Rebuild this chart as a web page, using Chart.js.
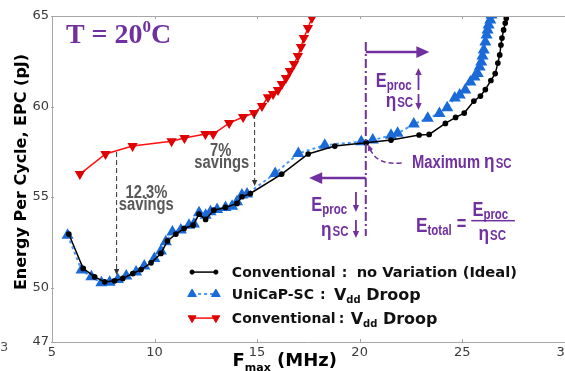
<!DOCTYPE html>
<html>
<head>
<meta charset="utf-8">
<script src="https://cdn.jsdelivr.net/npm/chart.js@4.4.1/dist/chart.umd.min.js"></script>
<style>
  html, body { margin: 0; padding: 0; background: #fff; overflow: hidden; }
  #wrap { width: 576px; height: 371px; }
</style>
</head>
<body>
<div id="wrap"><canvas id="epcChart" width="576" height="371"></canvas></div>
<script>
// axis ticks
const xTicks = [5, 10, 15, 20, 25, 30];
const yTicks = [47, 50, 55, 60, 65];

// Conventional : no Variation (Ideal)
const idealF = [5.82, 6.52, 7.08, 7.57, 8.05, 8.45, 8.94, 9.34, 9.83, 10.31, 10.63, 11.04, 11.44, 11.88, 12.17, 12.49, 12.89, 13.46, 14.02, 14.26, 14.67, 16.20, 17.49, 18.79, 20.32, 21.53, 22.90, 23.39, 24.18, 24.68, 25.10, 25.57, 25.89, 26.13, 26.40, 26.61, 26.74, 26.83, 26.89, 26.94, 27.02, 27.10, 27.15, 27.20];
const idealEPC = [52.96, 51.06, 50.60, 50.32, 50.38, 50.51, 50.78, 51.00, 51.37, 51.89, 52.58, 52.96, 53.27, 53.45, 54.06, 53.77, 54.28, 54.43, 54.65, 55.02, 55.20, 56.27, 57.38, 57.82, 58.00, 58.15, 58.43, 58.46, 59.07, 59.40, 59.64, 60.30, 60.58, 60.94, 61.44, 61.82, 62.40, 62.85, 63.40, 63.78, 64.23, 64.61, 64.87, 65.33];

// UniCaP-SC : Vdd Droop
const uniF = [5.76, 6.44, 6.92, 7.41, 7.81, 8.21, 8.62, 9.10, 9.50, 9.99, 10.31, 10.55, 10.87, 11.28, 11.68, 11.92, 12.17, 12.49, 12.73, 13.05, 13.46, 13.78, 14.02, 14.26, 14.51, 15.88, 17.01, 18.30, 20.08, 20.64, 21.53, 21.85, 22.64, 23.32, 23.89, 24.27, 24.64, 24.88, 25.15, 25.40, 25.60, 25.76, 25.85, 25.93, 25.99, 26.05, 26.13, 26.19, 26.24, 26.29, 26.37, 26.43];
const uniEPC = [52.90, 50.97, 50.60, 50.27, 50.30, 50.45, 50.64, 50.87, 51.19, 51.61, 52.03, 52.53, 53.08, 53.18, 53.45, 53.51, 54.13, 54.00, 54.19, 54.32, 54.43, 54.50, 54.74, 55.11, 55.17, 56.31, 57.41, 57.87, 58.06, 58.15, 58.41, 58.52, 59.03, 59.35, 59.61, 59.94, 60.47, 60.64, 60.91, 61.35, 61.63, 61.83, 62.18, 62.46, 62.79, 63.12, 63.56, 63.95, 64.23, 64.50, 64.78, 65.05];

// Conventional : Vdd Droop
const droopF = [6.36, 7.61, 8.93, 10.83, 11.46, 12.48, 12.86, 13.64, 14.32, 14.85, 15.24, 15.53, 15.78, 16.02, 16.21, 16.41, 16.60, 16.80, 16.99, 17.14, 17.28, 17.48, 17.67, 17.82];
const droopEPC = [56.27, 57.38, 57.82, 58.09, 58.26, 58.48, 58.48, 59.09, 59.42, 59.64, 60.03, 60.52, 60.69, 60.91, 61.24, 61.57, 61.96, 62.35, 62.79, 63.29, 63.78, 64.34, 64.89, 65.33];

const PURPLE = '#7030A0';
const GRAY = '#595959';
const NARROW = 0.82;

const toPoints = (xs, ys) => xs.map((x, i) => ({ x: x, y: ys[i] }));

function narrowText(ctx, text, x, y, size, color, align) {
    ctx.save();
    ctx.font = `bold ${size}px "Liberation Sans", Arial, sans-serif`;
    const w = ctx.measureText(text).width * NARROW;
    const x0 = align === 'center' ? x - w / 2 : x;
    ctx.translate(x0, y);
    ctx.scale(NARROW, 1);
    ctx.fillStyle = color;
    ctx.textAlign = 'left';
    ctx.textBaseline = 'alphabetic';
    ctx.fillText(text, 0, 0);
    ctx.restore();
    return x0 + w;
}

function plainText(ctx, text, x, y, font, color) {
    ctx.font = font;
    ctx.fillStyle = color;
    ctx.textAlign = 'left';
    ctx.textBaseline = 'alphabetic';
    ctx.fillText(text, x, y);
    return x + ctx.measureText(text).width;
}

function arrow(ctx, x1, y1, x2, y2, color, width, head, dash) {
    ctx.save();
    ctx.strokeStyle = color;
    ctx.fillStyle = color;
    ctx.lineWidth = width;
    ctx.setLineDash(dash || []);
    const a = Math.atan2(y2 - y1, x2 - x1);
    ctx.beginPath();
    ctx.moveTo(x1, y1);
    ctx.lineTo(x2 - Math.cos(a) * head * 0.8, y2 - Math.sin(a) * head * 0.8);
    ctx.stroke();
    ctx.setLineDash([]);
    const hw = head * 0.45;
    ctx.beginPath();
    ctx.moveTo(x2, y2);
    ctx.lineTo(x2 - head * Math.cos(a) + hw * Math.sin(a), y2 - head * Math.sin(a) - hw * Math.cos(a));
    ctx.lineTo(x2 - head * Math.cos(a) - hw * Math.sin(a), y2 - head * Math.sin(a) + hw * Math.cos(a));
    ctx.closePath();
    ctx.fill();
    ctx.restore();
}

// E with "proc" subscript, purple
function eProc(ctx, x, y) {
    const e = narrowText(ctx, 'E', x, y, 20, PURPLE);
    return narrowText(ctx, 'proc', e, y + 3, 14, PURPLE);
}
// eta with "SC"
function etaSC(ctx, x, y) {
    const e = narrowText(ctx, 'η', x, y, 21, PURPLE);
    return narrowText(ctx, 'SC', e + 1, y, 14, PURPLE);
}

const annotations = {
    id: 'annotations',
    afterDatasetsDraw(chart) {
        const ctx = chart.ctx;
        const xs = chart.scales.x, ys = chart.scales.y;
        const X = v => xs.getPixelForValue(v);
        const Y = v => ys.getPixelForValue(v);
        const area = chart.chartArea;

        ctx.save();
        // top frame line with small mirrored ticks
        ctx.strokeStyle = '#a6a6a6';
        ctx.lineWidth = 1;
        ctx.beginPath();
        ctx.moveTo(area.left, area.top + 0.5);
        ctx.lineTo(chart.width, area.top + 0.5);
        xTicks.forEach(v => {
            ctx.moveTo(Math.round(X(v)) + 0.5, area.top);
            ctx.lineTo(Math.round(X(v)) + 0.5, area.top + 3);
            ctx.moveTo(Math.round(X(v)) + 0.5, area.bottom);
            ctx.lineTo(Math.round(X(v)) + 0.5, area.bottom - 3);
        });
        yTicks.forEach(v => {
            ctx.moveTo(area.left - 1, Math.round(Y(v)) + 0.5);
            ctx.lineTo(area.left + 2, Math.round(Y(v)) + 0.5);
        });
        ctx.stroke();

        // T = 20°C
        ctx.font = 'bold 28px "Liberation Serif", "Times New Roman", serif';
        ctx.fillStyle = PURPLE;
        ctx.textBaseline = 'alphabetic';
        let tx = X(5.68), ty = Y(63.51);
        ctx.fillText('T = 20', tx, ty);
        tx += ctx.measureText('T = 20').width;
        ctx.font = 'bold 17px "Liberation Serif", "Times New Roman", serif';
        ctx.fillText('0', tx, ty - 11);
        tx += ctx.measureText('0').width;
        ctx.font = 'bold 28px "Liberation Serif", "Times New Roman", serif';
        ctx.fillText('C', tx, ty);

        // 12.3% savings
        arrow(ctx, X(8.15), Y(57.49), X(8.15), Y(50.70), '#333', 1, 6, [5, 3]);
        narrowText(ctx, '12.3%', X(9.60), Y(54.95), 18, GRAY, 'center');
        narrowText(ctx, 'savings', X(9.60), Y(54.29), 18, GRAY, 'center');

        // 7% savings
        arrow(ctx, X(14.88), Y(59.59), X(14.88), Y(55.61), '#333', 1, 6, [5, 3]);
        narrowText(ctx, '7%', X(13.23), Y(57.27), 18, GRAY, 'center');
        narrowText(ctx, 'savings', X(13.28), Y(56.61), 18, GRAY, 'center');

        // dash-dot divider at maximum efficiency
        ctx.save();
        ctx.strokeStyle = PURPLE;
        ctx.lineWidth = 2;
        ctx.setLineDash([9, 3, 2, 3]);
        ctx.beginPath();
        ctx.moveTo(X(20.30), Y(63.56));
        ctx.lineTo(X(20.30), Y(52.85));
        ctx.stroke();
        ctx.restore();

        arrow(ctx, X(20.30), Y(63.01), X(23.40), Y(63.01), PURPLE, 2.5, 13);
        arrow(ctx, X(20.30), Y(56.05), X(17.54), Y(56.05), PURPLE, 2.5, 13);

        // upper right labels
        eProc(ctx, X(20.79), Y(61.08));
        arrow(ctx, X(22.87), Y(60.91), X(22.87), Y(62.13), PURPLE, 1.8, 7);
        etaSC(ctx, X(21.27), Y(59.98));
        arrow(ctx, X(22.87), Y(60.69), X(22.87), Y(59.81), PURPLE, 1.8, 7);

        // lower left labels
        eProc(ctx, X(17.64), Y(54.23));
        arrow(ctx, X(19.82), Y(55.28), X(19.82), Y(54.18), PURPLE, 1.8, 7);
        etaSC(ctx, X(18.12), Y(52.85));
        arrow(ctx, X(19.82), Y(53.74), X(19.82), Y(52.74), PURPLE, 1.8, 7);

        // Maximum eta_SC with curved dashed pointer
        let mx = narrowText(ctx, 'Maximum ', X(22.55), Y(56.61), 18, PURPLE);
        etaSC(ctx, mx, Y(56.61));
        ctx.save();
        ctx.strokeStyle = PURPLE;
        ctx.lineWidth = 1.5;
        ctx.setLineDash([5, 3]);
        const sx = X(22.05), sy = Y(56.88), cx = X(20.80), cy = Y(56.75), ex = X(20.50), ey = Y(57.70);
        ctx.beginPath();
        ctx.moveTo(sx, sy);
        ctx.quadraticCurveTo(cx, cy, ex, ey);
        ctx.stroke();
        ctx.restore();
        arrow(ctx, ex + 1, ey + 3, X(20.42), Y(57.90), PURPLE, 1.5, 6);

        // E_total = E_proc / eta_SC
        let ex2 = narrowText(ctx, 'E', X(22.75), Y(53.07), 21, PURPLE);
        ex2 = narrowText(ctx, 'total', ex2, Y(53.07) + 3, 14, PURPLE);
        narrowText(ctx, '=', ex2 + 5, Y(53.07) - 2, 20, PURPLE);
        eProc(ctx, X(25.50), Y(53.96));
        ctx.fillStyle = PURPLE;
        ctx.fillRect(X(25.44), Y(53.74), X(27.57) - X(25.44), 1.5);
        etaSC(ctx, X(25.80), Y(52.63));

        // legend
        const legendRows = [
            { y: 50.86, ds: 0 },
            { y: 49.65, ds: 1 },
            { y: 48.32, ds: 2 }
        ];
        const lx1 = X(11.83), lx2 = X(12.99), textX = X(13.77);
        legendRows.forEach(row => {
            const d = chart.data.datasets[row.ds];
            const yy = Y(row.y);
            ctx.save();
            ctx.strokeStyle = d.borderColor;
            ctx.lineWidth = d.borderWidth;
            ctx.setLineDash(d.borderDash || []);
            ctx.beginPath();
            ctx.moveTo(lx1, yy);
            ctx.lineTo(lx2, yy);
            ctx.stroke();
            ctx.setLineDash([]);
            ctx.fillStyle = d.pointBackgroundColor;
            ctx.strokeStyle = d.pointBorderColor;
            ctx.lineWidth = 1;
            [lx1, lx2].forEach(px => {
                Chart.helpers.drawPoint(ctx, {
                    pointStyle: d.pointStyle,
                    rotation: d.pointRotation || 0,
                    radius: d.pointRadius,
                    borderWidth: 1
                }, px, yy);
            });
            ctx.restore();
        });
        const lf = 'bold 14px "DejaVu Sans", Verdana, sans-serif';
        const lf2 = 'bold 14.7px "DejaVu Sans", Verdana, sans-serif';
        const bf = 'bold 16px "DejaVu Sans", Verdana, sans-serif';
        const sf = 'bold 10px "DejaVu Sans", Verdana, sans-serif';
        let y1 = Y(50.86) + 5;
        let p = plainText(ctx, 'Conventional', textX, y1, lf, '#111');
        plainText(ctx, ':', p + 6, y1, lf, '#111');
        plainText(ctx, 'no Variation (Ideal)', p + 21, y1, lf2, '#111');

        let y2 = Y(49.65) + 5;
        p = plainText(ctx, 'UniCaP-SC', textX, y2, lf, '#111');
        plainText(ctx, ':', p + 6, y2, lf, '#111');
        p = plainText(ctx, 'V', p + 20, y2 + 1, bf, '#111');
        p = plainText(ctx, 'dd', p, y2 + 4, sf, '#111');
        plainText(ctx, ' Droop', p, y2 + 1, bf, '#111');

        let y3 = Y(48.32) + 5;
        p = plainText(ctx, 'Conventional', textX, y3, lf, '#111');
        plainText(ctx, ':', p + 3, y3, lf, '#111');
        p = plainText(ctx, 'V', p + 15, y3 + 1, bf, '#111');
        p = plainText(ctx, 'dd', p, y3 + 4, sf, '#111');
        plainText(ctx, ' Droop', p, y3 + 1, bf, '#111');

        // axis titles
        ctx.save();
        ctx.translate(22, (area.top + area.bottom) / 2 - 7);
        ctx.rotate(-Math.PI / 2);
        ctx.font = 'bold 16px "DejaVu Sans", Verdana, sans-serif';
        ctx.fillStyle = '#000';
        ctx.textAlign = 'center';
        ctx.textBaseline = 'middle';
        ctx.fillText('Energy Per Cycle, EPC (pJ)', 0, 0);
        ctx.restore();

        const bx = X(13.80), by = area.bottom + 24;
        p = plainText(ctx, 'F', bx, by, 'bold 18px "DejaVu Sans", Verdana, sans-serif', '#000');
        p = plainText(ctx, 'max', p, by + 5, 'bold 11px "DejaVu Sans", Verdana, sans-serif', '#000');
        plainText(ctx, ' (MHz)', p, by, 'bold 18px "DejaVu Sans", Verdana, sans-serif', '#000');

        // stray cropped label at far left
        plainText(ctx, '3', 0, area.bottom + 9, '13px "DejaVu Sans", sans-serif', '#555');

        ctx.restore();
    }
};

const ctx = document.getElementById('epcChart').getContext('2d');
new Chart(ctx, {
    type: 'line',
    data: {
        datasets: [
            {
                label: 'Conventional : no Variation (Ideal)',
                data: toPoints(idealF, idealEPC),
                borderColor: '#000000',
                borderWidth: 1.5,
                pointStyle: 'circle',
                pointRadius: 2.1,
                pointBackgroundColor: '#000000',
                pointBorderColor: '#000000',
                tension: 0
            },
            {
                label: 'UniCaP-SC : Vdd Droop',
                data: toPoints(uniF, uniEPC),
                borderColor: '#4a9bf5',
                borderWidth: 2,
                borderDash: [3, 3],
                pointStyle: 'triangle',
                pointRadius: 5,
                pointBackgroundColor: '#1a6ad8',
                pointBorderColor: '#1a6ad8',
                tension: 0
            },
            {
                label: 'Conventional : Vdd Droop',
                data: toPoints(droopF, droopEPC),
                borderColor: '#ff1010',
                borderWidth: 1.5,
                pointStyle: 'triangle',
                pointRotation: 180,
                pointRadius: 4.5,
                pointBackgroundColor: '#e00000',
                pointBorderColor: '#e00000',
                tension: 0
            }
        ]
    },
    options: {
        responsive: false,
        animation: false,
        layout: { padding: { top: 16, right: 8, left: 0, bottom: 0 } },
        plugins: {
            legend: { display: false },
            tooltip: { enabled: false }
        },
        scales: {
            x: {
                type: 'linear',
                min: 5,
                max: 30,
                afterBuildTicks: scale => { scale.ticks = xTicks.map(v => ({ value: v })); },
                afterFit: scale => { scale.height = 29; },
                grid: { drawOnChartArea: false, drawTicks: false },
                border: { display: true, color: '#a6a6a6', width: 1 },
                ticks: {
                    padding: 3,
                    color: '#3a3a3a',
                    font: { family: '"DejaVu Sans", sans-serif', size: 13 }
                }
            },
            y: {
                type: 'linear',
                min: 47,
                max: 65,
                afterBuildTicks: scale => { scale.ticks = yTicks.map(v => ({ value: v })); },
                afterFit: scale => { scale.width = 52; },
                grid: { drawOnChartArea: false, drawTicks: false },
                border: { display: true, color: '#a6a6a6', width: 1 },
                ticks: {
                    padding: 3,
                    color: '#3a3a3a',
                    font: { family: '"DejaVu Sans", sans-serif', size: 13 }
                }
            }
        }
    },
    plugins: [annotations]
});
</script>
</body>
</html>
